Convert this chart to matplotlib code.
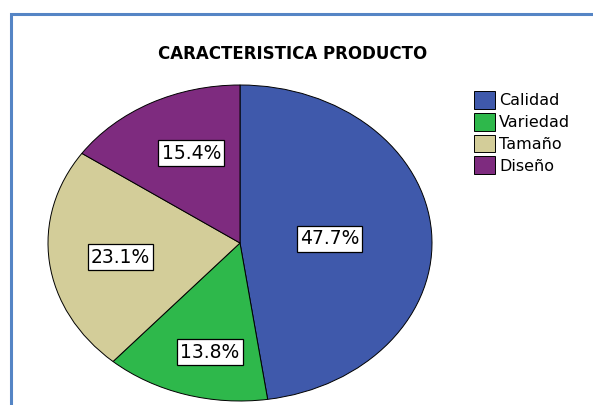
import matplotlib
matplotlib.use("Agg")
import matplotlib.pyplot as plt
from matplotlib.patches import Rectangle
import numpy as np

categories = ["Calidad", "Variedad", "Tamaño", "Diseño"]
values = [47.7, 13.8, 23.1, 15.4]
colors = ["#3F59AB", "#2EB84B", "#D3CD99", "#7E2B7F"]
title = "CARACTERISTICA PRODUCTO"

# label placement (style): radial distance and angular shift per slice
label_dist = [0.467, 0.708, 0.628, 0.623]
label_shift = [-1.0, 3.7, 1.1, -3.7]

plt.rcParams['font.family'] = ['DejaVu Sans']

W, H = 593, 405
fig = plt.figure(figsize=(W / 100, H / 100), dpi=100)
fig.patch.set_facecolor("white")

# Pie axes (ellipse: axes not equal aspect)
ax = fig.add_axes([48 / W, (H - 401) / H, 384 / W, 316 / H])
wedges, _ = ax.pie(values, colors=colors, startangle=90, counterclock=False,
                   radius=1.0, wedgeprops=dict(edgecolor="black", linewidth=0.7))
ax.set_aspect('auto')
ax.set_xlim(-1, 1)
ax.set_ylim(-1, 1)
ax.axis('off')

total = sum(values)
cum = 0.0
for v, d, s in zip(values, label_dist, label_shift):
    mid = 90 - (cum + v / 2) / total * 360 + s
    cum += v
    x = d * np.cos(np.radians(mid))
    y = d * np.sin(np.radians(mid))
    ax.text(x, y, f"{v:.1f}%", ha="center", va="center", fontsize=13.5,
            bbox=dict(boxstyle="square,pad=0.17", facecolor="white",
                      edgecolor="black", linewidth=0.9))

fig.text(293 / W, 1 - 54 / H, title, ha="center", va="center",
         fontsize=12, fontweight="bold")

fs = 11.5
leg = fig.legend(wedges, categories, loc="upper left",
                 bbox_to_anchor=(471 / W, 1 - 88 / H), frameon=False,
                 fontsize=fs, handlelength=1.31, handleheight=1.33,
                 handletextpad=0.25, labelspacing=0.25, borderpad=0.2,
                 borderaxespad=0)

# Blue frame (top and left edges)
fig.patches.append(Rectangle((10.5 / W, -0.1), 1.2, (H - 13.5) / H + 0.1,
                             transform=fig.transFigure, fill=False,
                             edgecolor="#5585C5", linewidth=2.2))

fig.savefig("out.png", dpi=100)
